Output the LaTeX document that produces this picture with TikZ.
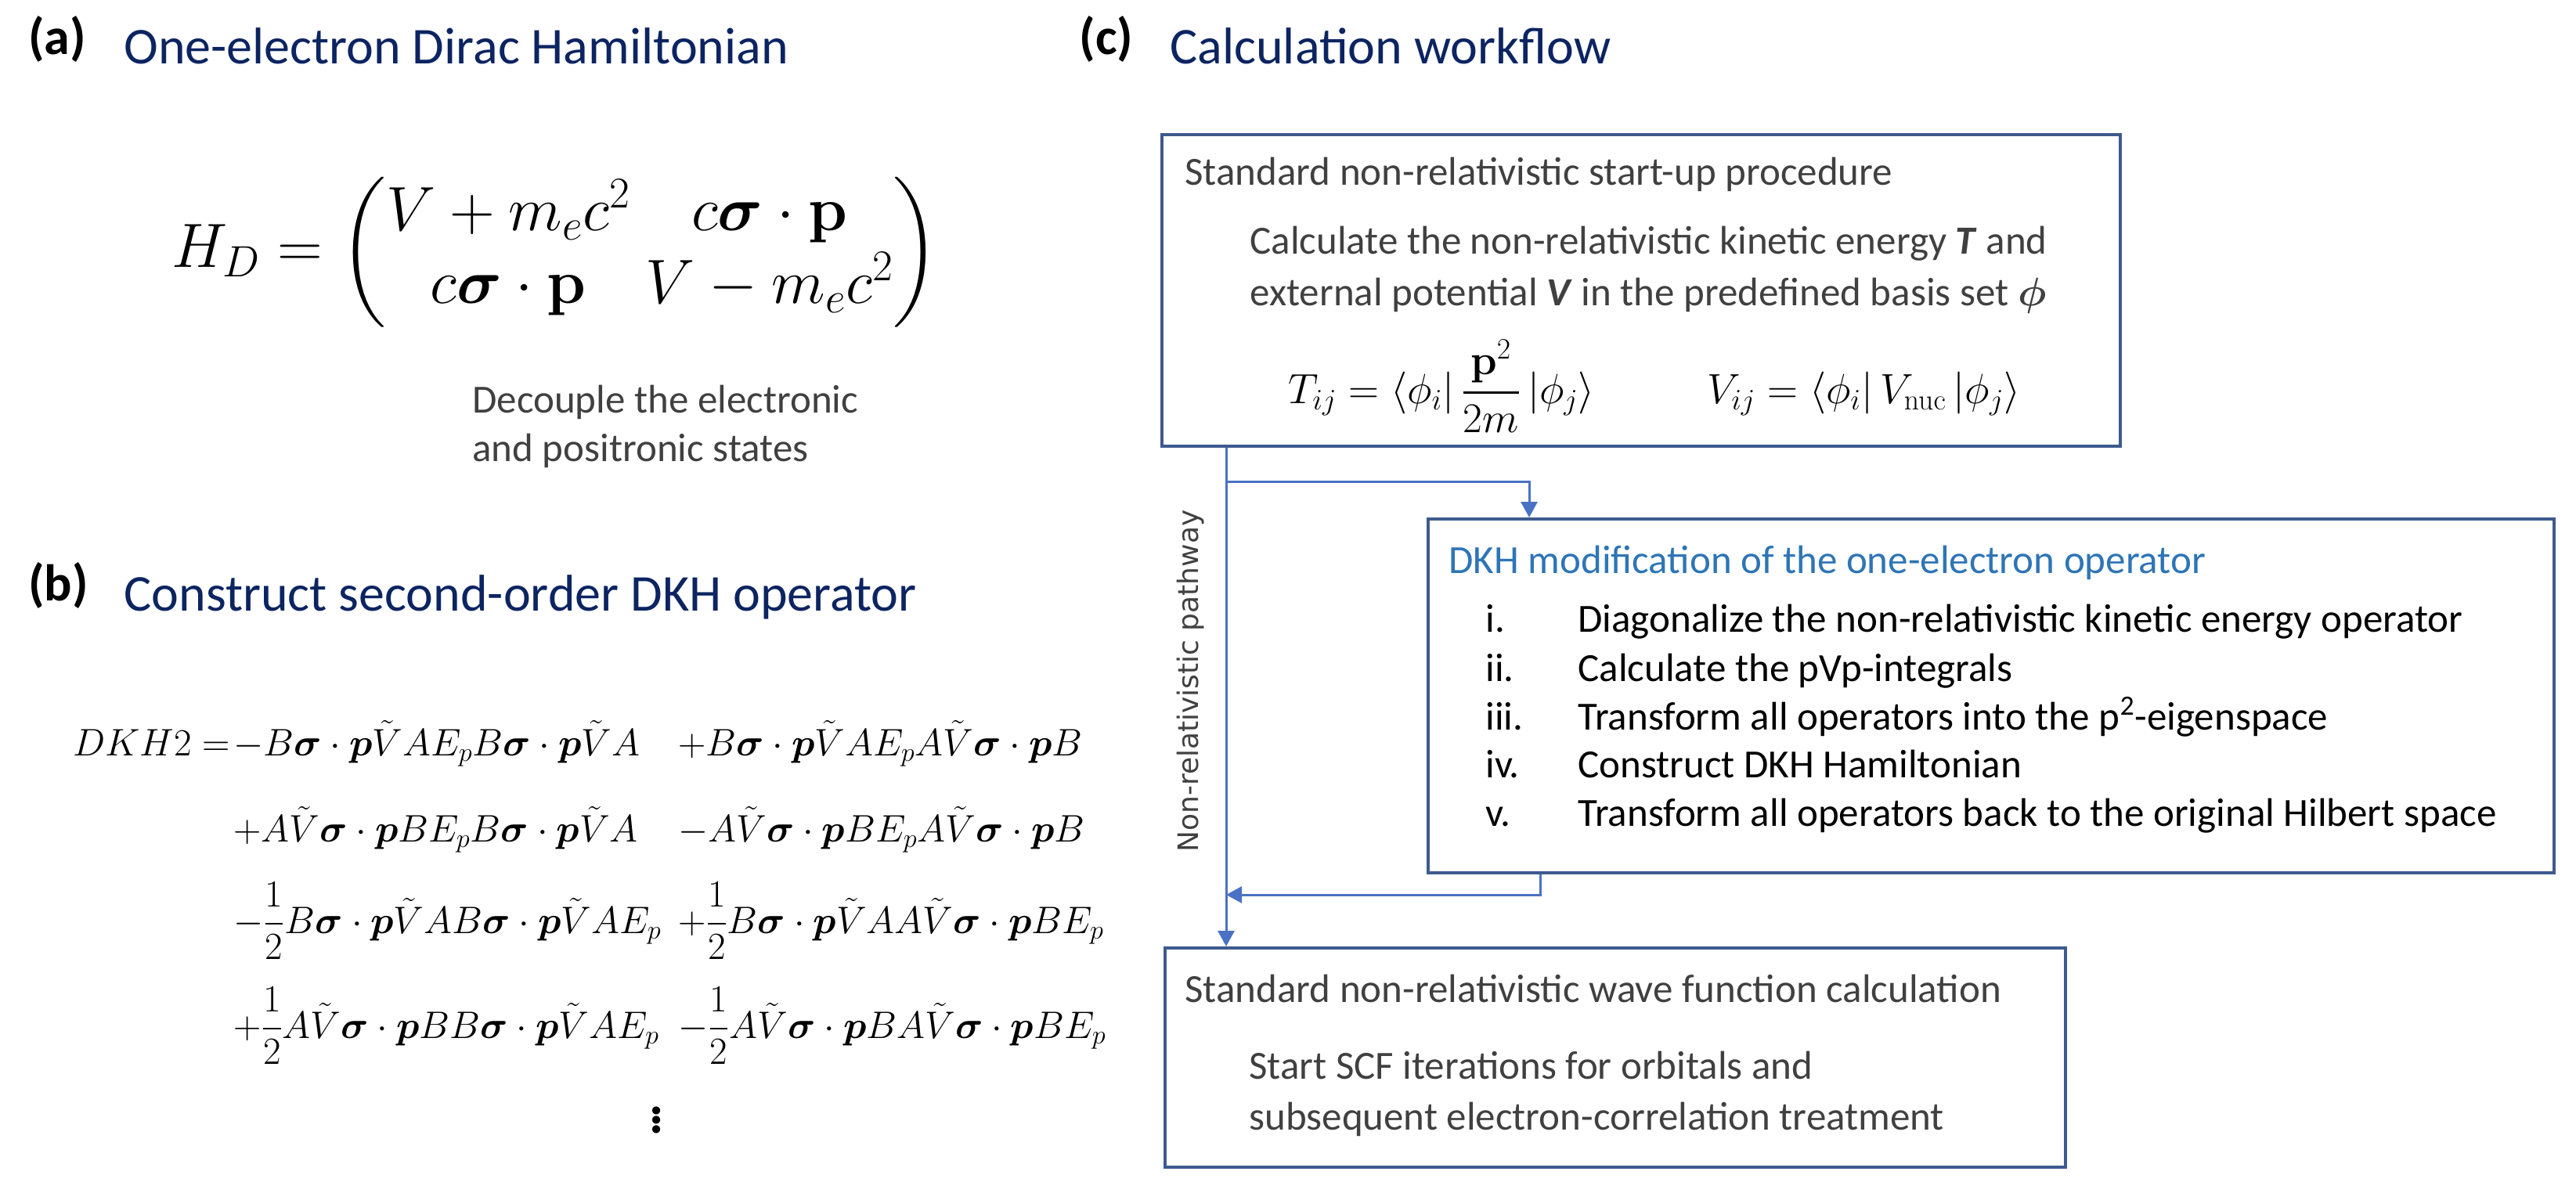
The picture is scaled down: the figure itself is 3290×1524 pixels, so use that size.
\RequirePackage{fix-cm}
\documentclass[tikz,border=0pt]{standalone}
\usepackage{amsmath,amssymb}
\usepackage[no-math]{fontspec}
\setmainfont{Carlito}
\newfontfamily\dejavu{DejaVu Sans}
\usetikzlibrary{arrows.meta}
\definecolor{titleblue}{HTML}{0C2461}
\definecolor{boxblue}{HTML}{3E5A8E}
\definecolor{arrowblue}{HTML}{4A72C4}
\definecolor{txtgray}{HTML}{404040}
\definecolor{headblue}{HTML}{2E75B6}
\begin{document}
\begin{tikzpicture}[x=0.5pt,y=-0.5pt,
  txt/.style={anchor=base west, inner sep=0pt, font=\fontsize{25.5}{30}\selectfont},
  gtxt/.style={txt, text=txtgray},
  ttl/.style={anchor=base west, inner sep=0pt, font=\fontsize{33}{40}\selectfont, text=titleblue},
  lbl/.style={anchor=base west, inner sep=0pt, font=\fontsize{33}{40}\selectfont\bfseries},
  box/.style={draw=boxblue, line width=2.2pt, anchor=north west, inner sep=0pt},
  conn/.style={draw=arrowblue, line width=1.5pt},
  tip/.style={-{Triangle[length=10pt,width=10.5pt]}},
  dk/.style={anchor=base west, inner sep=0pt, font=\fontsize{24.5}{29}\selectfont},
  eqn/.style={anchor=base west, inner sep=0pt, font=\fontsize{27}{32}\selectfont},
]
\fill[white] (0,0) rectangle (3290,1524);
\useasboundingbox (0,0) rectangle (3290,1524);

% ---------- (a) ----------
\node[lbl] (la) at (36,70) {(a)};
\node[ttl] (ta) at (158,82) {One-electron Dirac Hamiltonian};
\node[anchor=west, inner sep=0pt, font=\fontsize{40}{46}\selectfont] (hd) at (219,322)
  {$H_D=\begin{pmatrix} V+m_ec^2 & c\boldsymbol{\sigma}\cdot\mathbf{p}\\ c\boldsymbol{\sigma}\cdot\mathbf{p} & V-m_ec^2\end{pmatrix}$};
\node[gtxt] (dc1) at (603,527) {Decouple the electronic};
\node[gtxt] (dc2) at (603,589) {and positronic states};

% ---------- (b) ----------
\node[lbl] (lb) at (36,767) {(b)};
\node[ttl] (tb) at (158,780) {Construct second-order DKH operator};
\node[dk] (d0) at (93,965) {$DKH2=$};
\node[dk] (d11) at (298,965) {$-B\boldsymbol{\sigma}\cdot\boldsymbol{p}\tilde{V}AE_pB\boldsymbol{\sigma}\cdot\boldsymbol{p}\tilde{V}A$};
\node[dk] (d12) at (866,965) {$+B\boldsymbol{\sigma}\cdot\boldsymbol{p}\tilde{V}AE_pA\tilde{V}\boldsymbol{\sigma}\cdot\boldsymbol{p}B$};
\node[dk] (d21) at (298,1075) {$+A\tilde{V}\boldsymbol{\sigma}\cdot\boldsymbol{p}BE_pB\boldsymbol{\sigma}\cdot\boldsymbol{p}\tilde{V}A$};
\node[dk] (d22) at (866,1075) {$-A\tilde{V}\boldsymbol{\sigma}\cdot\boldsymbol{p}BE_pA\tilde{V}\boldsymbol{\sigma}\cdot\boldsymbol{p}B$};
\node[dk] (d31) at (298,1192) {$-\dfrac{1}{2}B\boldsymbol{\sigma}\cdot\boldsymbol{p}\tilde{V}AB\boldsymbol{\sigma}\cdot\boldsymbol{p}\tilde{V}AE_p$};
\node[dk] (d32) at (866,1192) {$+\dfrac{1}{2}B\boldsymbol{\sigma}\cdot\boldsymbol{p}\tilde{V}AA\tilde{V}\boldsymbol{\sigma}\cdot\boldsymbol{p}BE_p$};
\node[dk] (d41) at (298,1326) {$+\dfrac{1}{2}A\tilde{V}\boldsymbol{\sigma}\cdot\boldsymbol{p}BB\boldsymbol{\sigma}\cdot\boldsymbol{p}\tilde{V}AE_p$};
\node[dk] (d42) at (866,1326) {$-\dfrac{1}{2}A\tilde{V}\boldsymbol{\sigma}\cdot\boldsymbol{p}BA\tilde{V}\boldsymbol{\sigma}\cdot\boldsymbol{p}BE_p$};
\node[anchor=center, inner sep=0pt, font=\fontsize{34}{40}\selectfont\bfseries] (vd) at (839,1425) {$\vdots$};

% ---------- (c) ----------
\node[lbl] (lc) at (1378,70) {(c)};
\node[ttl] (tc) at (1494,82) {Calculation workflow};

% box 1
\node[box, minimum width=612pt, minimum height=199pt] (b1) at (1482,170) {};
\node[gtxt] (b1t) at (1513,237) {Standard non-relativistic start-up procedure};
\node[gtxt] (b1a) at (1596,325) {Calculate the non-relativistic kinetic energy \textbf{\textit{T}} and};
\node[gtxt] (b1b) at (1596,390) {external potential \textbf{\textit{V}} in the predefined basis set $\boldsymbol{\phi}$};
\node[eqn] (eqT) at (1645,515) {$T_{ij}=\langle\phi_i\rvert\,\dfrac{\mathbf{p}^2}{2m}\,\lvert\phi_j\rangle$};
\node[eqn] (eqV) at (2180,515) {$V_{ij}=\langle\phi_i\rvert\,V_{\mathrm{nuc}}\,\lvert\phi_j\rangle$};

% box 2
\node[box, minimum width=719pt, minimum height=226pt] (b2) at (1822,661) {};
\node[txt, text=headblue] (b2t) at (1850,732) {DKH modification of the one-electron operator};
\node[txt] (n1) at (1897,807) {i.};
\node[txt] (s1) at (2015,807) {Diagonalize the non-relativistic kinetic energy operator};
\node[txt] (n2) at (1897,870) {ii.};
\node[txt] (s2) at (2015,870) {Calculate the pVp-integrals};
\node[txt] (n3) at (1897,932) {iii.};
\node[txt] (s3) at (2015,932) {Transform all operators into the p\textsuperscript{2}-eigenspace};
\node[txt] (n4) at (1897,993) {iv.};
\node[txt] (s4) at (2015,993) {Construct DKH Hamiltonian};
\node[txt] (n5) at (1897,1055) {v.};
\node[txt] (s5) at (2015,1055) {Transform all operators back to the original Hilbert space};

% box 3
\node[box, minimum width=575pt, minimum height=140pt] (b3) at (1486,1209) {};
\node[gtxt] (b3t) at (1513,1280) {Standard non-relativistic wave function calculation};
\node[gtxt] (b3a) at (1595,1378) {Start SCF iterations for orbitals and};
\node[gtxt] (b3b) at (1595,1443) {subsequent electron-correlation treatment};

% connectors
\coordinate (tx) at (1566,0);
\coordinate (br) at (1566,615);
\coordinate (bx) at (1953,0);
\coordinate (rx) at (1967,0);
\coordinate (ry) at (0,1143);
\draw[conn,tip] (b1.south -| tx) -- (b3.north -| tx);
\draw[conn,tip] (br) -| (b2.north -| bx);
\draw[conn,tip] (b2.south -| rx) |- (ry -| tx);
\node[rotate=90, anchor=center, inner sep=0pt, text=txtgray, font=\dejavu\fontsize{18}{22}\selectfont] (np) at (1521,870) {Non-relativistic pathway};
\end{tikzpicture}
\end{document}
